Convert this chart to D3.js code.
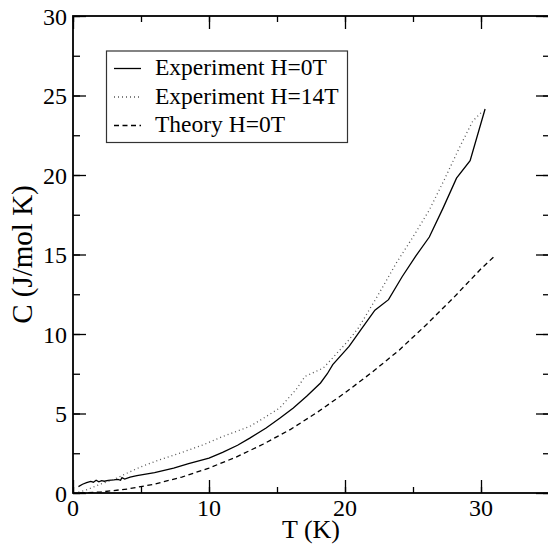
<!DOCTYPE html>
<html>
<head>
<meta charset="utf-8">
<script src="https://cdn.jsdelivr.net/npm/d3@7"></script>
<style>
  body { margin: 0; background: #fff; }
</style>
</head>
<body>
<div id="chart"></div>
<script>
// Experiment H=0T (solid)
var expT0 = [0.4, 0.7, 1.0, 1.3, 1.5, 1.7, 1.9, 2.1, 2.3, 2.6, 3.0, 3.3, 3.5, 3.6, 3.8, 4.2, 4.7, 6.0, 7.4, 8.5, 10.0, 11.0, 12.1, 13.0, 14.2, 15.2, 16.2, 17.2, 18.2, 18.7, 19.1, 20.3, 21.2, 22.2, 23.2, 24.2, 25.2, 26.2, 27.2, 28.2, 29.2, 30.3];
var expC0 = [0.4, 0.55, 0.65, 0.73, 0.68, 0.8, 0.7, 0.78, 0.74, 0.8, 0.82, 0.86, 0.8, 0.97, 0.88, 1.0, 1.09, 1.28, 1.57, 1.85, 2.2, 2.55, 3.0, 3.45, 4.09, 4.7, 5.35, 6.1, 6.92, 7.5, 8.07, 9.22, 10.3, 11.5, 12.16, 13.6, 14.9, 16.1, 17.9, 19.8, 20.9, 24.15];

// Experiment H=14T (dotted)
var expT14 = [0.4, 1.0, 2.0, 3.0, 4.0, 5.0, 6.4, 8.0, 9.6, 11.0, 13.0, 14.0, 15.2, 16.4, 17.06, 18.4, 19.1, 20.3, 21.0, 22.4, 23.8, 25.0, 26.2, 27.3, 28.4, 29.4, 30.1];
var expC14 = [0.05, 0.2, 0.55, 0.85, 1.26, 1.65, 2.1, 2.55, 3.04, 3.55, 4.19, 4.7, 5.35, 6.5, 7.33, 7.86, 8.5, 9.64, 10.4, 12.4, 14.5, 16.1, 17.8, 19.7, 21.7, 23.4, 24.0];

// Theory H=0T (dashed)
var thT = [0.5, 2, 4, 6, 8, 10, 12, 14, 16, 18, 20, 22, 24, 26, 28, 30, 31];
var thC = [0.0, 0.06, 0.25, 0.56, 1.0, 1.57, 2.26, 3.08, 4.0, 5.1, 6.3, 7.6, 9.0, 10.6, 12.3, 14.1, 14.9];

var xTicks = [0, 10, 20, 30],
    yTicks = [0, 5, 10, 15, 20, 25, 30];

var legendLabels = ["Experiment H=0T", "Experiment H=14T", "Theory H=0T"];

var width = 548,
    height = 544,
    margin = {top: 16, right: -1, bottom: 51, left: 73},
    serif = "'Liberation Serif', 'Times New Roman', Times, serif";

var svg = d3.select("#chart").append("svg")
    .attr("width", width)
    .attr("height", height);

var x = d3.scaleLinear().domain([0, 35]).range([margin.left, width - margin.right]);
var y = d3.scaleLinear().domain([0, 30]).range([height - margin.bottom, margin.top]);

var series = [
    {t: expT0, c: expC0, stroke: "#000", dash: null, w: 1.3},
    {t: expT14, c: expC14, stroke: "#555", dash: "1,3", w: 1.3},
    {t: thT, c: thC, stroke: "#000", dash: "5,3.5", w: 1.3}
];

var line = d3.line()
    .x(function(d) { return x(d[0]); })
    .y(function(d) { return y(d[1]); });

series.forEach(function(s) {
    svg.append("path")
        .datum(d3.zip(s.t, s.c))
        .attr("d", line)
        .attr("fill", "none")
        .attr("stroke", s.stroke)
        .attr("stroke-width", s.w)
        .attr("stroke-dasharray", s.dash);
});

// axes (ticks inward, mirrored on top and right)
var fontSize = 24;
svg.append("g")
    .attr("transform", "translate(0," + y(0) + ")")
    .call(d3.axisTop(x).tickValues(d3.range(0, 36, 5)).tickSize(6).tickFormat(""));
svg.append("g")
    .attr("transform", "translate(0," + y(0) + ")")
    .call(d3.axisTop(x).tickValues(xTicks).tickSize(13).tickFormat(""));
svg.append("g")
    .attr("transform", "translate(0," + y(30) + ")")
    .call(d3.axisBottom(x).tickValues(d3.range(0, 36, 5)).tickSize(6).tickFormat(""));
svg.append("g")
    .attr("transform", "translate(0," + y(30) + ")")
    .call(d3.axisBottom(x).tickValues(xTicks).tickSize(13).tickFormat(""));
svg.append("g")
    .attr("transform", "translate(" + x(0) + ",0)")
    .call(d3.axisRight(y).tickValues(d3.range(0, 31, 2.5)).tickSize(7).tickFormat(""));
svg.append("g")
    .attr("transform", "translate(" + x(0) + ",0)")
    .call(d3.axisRight(y).tickValues(yTicks).tickSize(13).tickFormat(""));
svg.append("g")
    .attr("transform", "translate(" + x(35) + ",0)")
    .call(d3.axisLeft(y).tickValues(d3.range(0, 31, 2.5)).tickSize(6).tickFormat(""));
svg.append("g")
    .attr("transform", "translate(" + x(35) + ",0)")
    .call(d3.axisLeft(y).tickValues(yTicks).tickSize(13).tickFormat(""));

svg.selectAll(".domain").remove();
svg.selectAll(".tick text").remove();
svg.selectAll(".tick line").attr("stroke", "#000").attr("stroke-width", 1.3);

svg.append("rect")
    .attr("x", x(0)).attr("y", y(30))
    .attr("width", x(35) - x(0)).attr("height", y(0) - y(30))
    .attr("fill", "none").attr("stroke", "#000").attr("stroke-width", 1.8);

// tick labels
svg.selectAll(".xlab").data(xTicks).enter().append("text")
    .attr("x", function(d) { return x(d); })
    .attr("y", y(0) + 23)
    .attr("text-anchor", "middle")
    .style("font-family", serif)
    .attr("font-size", fontSize)
    .text(function(d) { return d; });

svg.selectAll(".ylab").data(yTicks).enter().append("text")
    .attr("x", x(0) - 6)
    .attr("y", function(d) { return y(d) + 8.5; })
    .attr("text-anchor", "end")
    .style("font-family", serif)
    .attr("font-size", fontSize)
    .text(function(d) { return d; });

// axis titles
svg.append("text")
    .attr("x", (x(0) + x(35)) / 2)
    .attr("y", 538)
    .attr("text-anchor", "middle")
    .style("font-family", serif)
    .attr("font-size", 26)
    .text("T (K)");

svg.append("text")
    .attr("transform", "translate(32," + (y(15)) + ") rotate(-90)")
    .attr("text-anchor", "middle")
    .style("font-family", serif)
    .attr("font-size", 29)
    .text("C (J/mol K)");

// legend
var legend = svg.append("g");
legend.append("rect")
    .attr("x", 106.5).attr("y", 51)
    .attr("width", 241).attr("height", 91.5)
    .attr("fill", "#fff").attr("stroke", "#333").attr("stroke-width", 1.2);

legendLabels.forEach(function(lab, i) {
    var s = series[i],
        ly = 68.5 + i * 28.5;
    legend.append("line")
        .attr("x1", 114).attr("x2", 141)
        .attr("y1", ly).attr("y2", ly)
        .attr("stroke", s.stroke)
        .attr("stroke-width", s.w)
        .attr("stroke-dasharray", s.dash);
    legend.append("text")
        .attr("x", 155)
        .attr("y", ly + 6.5)
        .style("font-family", serif)
        .attr("font-size", 23.5)
        .text(lab);
});
</script>
</body>
</html>
